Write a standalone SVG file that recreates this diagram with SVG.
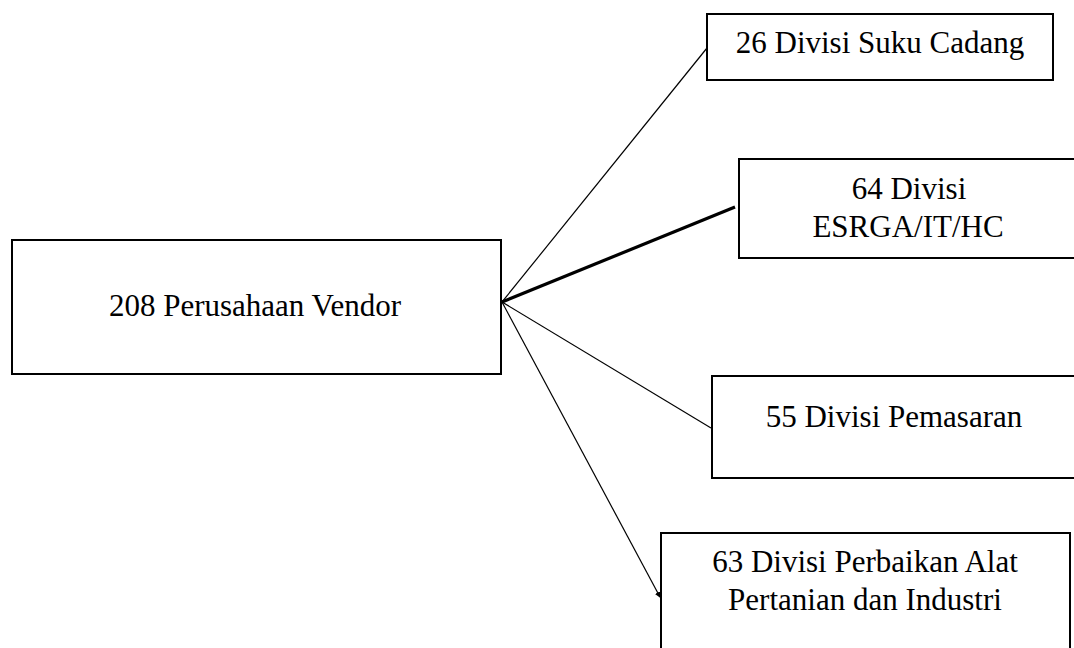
<svg xmlns="http://www.w3.org/2000/svg" width="1074" height="648" viewBox="0 0 1074 648">
<style>
.box{fill:#fff;stroke:#000;stroke-width:2}
.t{font-family:"Liberation Serif","Times New Roman",serif;font-size:31px;fill:#000;text-anchor:middle}
.c{stroke:#000;stroke-width:1.2;fill:none}
</style>
<defs>
<marker id="ah" markerWidth="6" markerHeight="6" refX="5" refY="3" orient="auto" markerUnits="userSpaceOnUse">
<path d="M0,0 L6,3 L0,6 Z" fill="#000"/>
</marker>
</defs>
<rect width="1074" height="648" fill="#fff"/>
<g id="n1"><rect class="box" x="12" y="240" width="489" height="134"/><text class="t" x="255" y="316">208 Perusahaan Vendor</text></g>
<g id="n2"><rect class="box" x="707" y="14" width="346" height="66"/><text class="t" x="880" y="53">26 Divisi Suku Cadang</text></g>
<g id="n3"><rect class="box" x="739" y="159" width="345" height="99"/><text class="t" x="909" y="199">64 Divisi</text><text class="t" x="908" y="237">ESRGA/IT/HC</text></g>
<g id="n4"><rect class="box" x="712" y="376" width="370" height="102"/><text class="t" x="894" y="427">55 Divisi Pemasaran</text></g>
<g id="n5"><rect class="box" x="661" y="533" width="409" height="130"/><text class="t" x="865" y="572">63 Divisi Perbaikan Alat</text><text class="t" x="865" y="610">Pertanian dan Industri</text></g>
<g id="connectors">
<line class="c" x1="502" y1="302" x2="707" y2="48"/>
<line x1="502" y1="302" x2="735" y2="207" stroke="#000" stroke-width="3.2"/>
<line class="c" x1="502" y1="302" x2="711" y2="428"/>
<line class="c" x1="502" y1="302" x2="660" y2="597" marker-end="url(#ah)"/>
</g>
</svg>
